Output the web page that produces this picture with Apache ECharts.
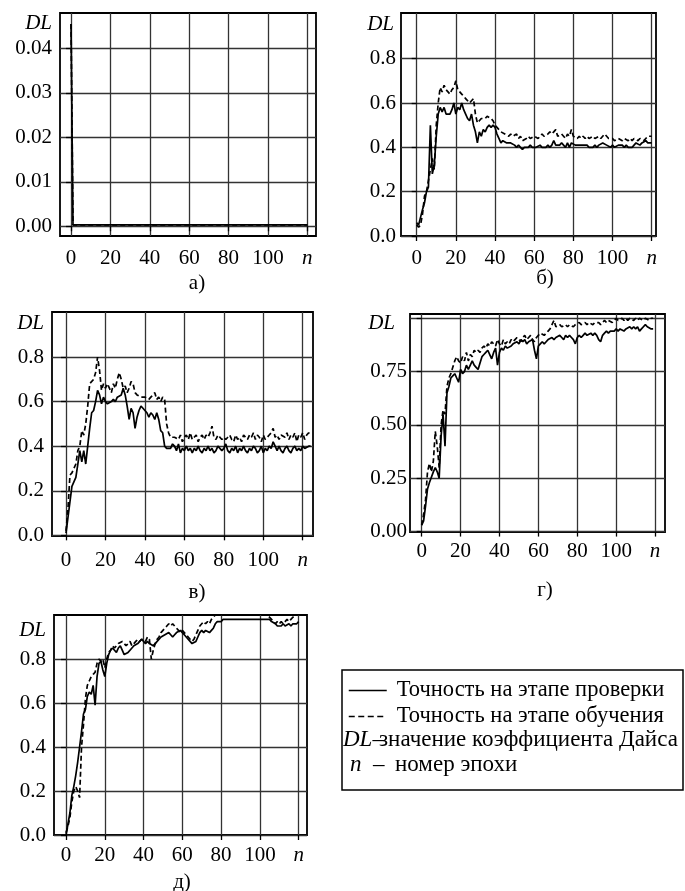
<!DOCTYPE html>
<html><head><meta charset="utf-8">
<script src="https://cdn.jsdelivr.net/npm/echarts@6/dist/echarts.min.js"></script>
<style>html,body{margin:0;padding:0;background:#fff}#c{width:685px;height:891px}</style>
</head><body><div id="c"></div>
<script>
// ---------- data ----------
const epochTicks = [0, 20, 40, 60, 80, 100, 120];
const epochTickLabels = ['0', '20', '40', '60', '80', '100', 'n'];
const seriesNames = ['Точность на этапе проверки', 'Точность на этапе обучения'];
const panelLabels = ['а)', 'б)', 'в)', 'г)', 'д)'];

// panel а
const aYTicks = [0, 0.01, 0.02, 0.03, 0.04];
const aVal = [0.0455,0.0003,0.0003,0.0003,0.0003,0.0003,0.0003,0.0003,0.0003,0.0003,
0.0003,0.0003,0.0003,0.0003,0.0003,0.0003,0.0003,0.0003,0.0003,0.0003,
0.0003,0.0003,0.0003,0.0003,0.0003,0.0003,0.0003,0.0003,0.0003,0.0003,
0.0003,0.0003,0.0003,0.0003,0.0003,0.0003,0.0003,0.0003,0.0003,0.0003,
0.0003,0.0003,0.0003,0.0003,0.0003,0.0003,0.0003,0.0003,0.0003,0.0003,
0.0003,0.0003,0.0003,0.0003,0.0003,0.0003,0.0003,0.0003,0.0003,0.0003,
0.0003,0.0003,0.0003,0.0003,0.0003,0.0003,0.0003,0.0003,0.0003,0.0003,
0.0003,0.0003,0.0003,0.0003,0.0003,0.0003,0.0003,0.0003,0.0003,0.0003,
0.0003,0.0003,0.0003,0.0003,0.0003,0.0003,0.0003,0.0003,0.0003,0.0003,
0.0003,0.0003,0.0003,0.0003,0.0003,0.0003,0.0003,0.0003,0.0003,0.0003,
0.0003,0.0003,0.0003,0.0003,0.0003,0.0003,0.0003,0.0003,0.0003,0.0003,
0.0003,0.0003,0.0003,0.0003,0.0003,0.0003,0.0003,0.0003,0.0003,0.0003,0.0003];
const aTrain = aVal;

// panel б
const bYTicks = [0, 0.2, 0.4, 0.6, 0.8];
const bVal = [0.06,0.05,0.05,0.12,0.15,0.20,0.22,0.50,0.28,0.32,
0.45,0.55,0.58,0.56,0.58,0.55,0.55,0.55,0.57,0.60,
0.55,0.58,0.57,0.60,0.57,0.55,0.53,0.52,0.55,0.50,
0.47,0.42,0.47,0.45,0.48,0.47,0.49,0.50,0.49,0.50,
0.49,0.46,0.44,0.42,0.43,0.43,0.42,0.42,0.42,0.42,
0.41,0.40,0.41,0.40,0.39,0.40,0.40,0.40,0.41,0.40,
0.40,0.40,0.40,0.41,0.40,0.40,0.40,0.41,0.40,0.41,
0.43,0.41,0.41,0.41,0.42,0.41,0.40,0.42,0.40,0.42,
0.42,0.41,0.41,0.41,0.41,0.41,0.41,0.41,0.40,0.40,
0.40,0.41,0.40,0.41,0.41,0.42,0.42,0.41,0.41,0.40,
0.41,0.40,0.40,0.41,0.41,0.41,0.40,0.41,0.40,0.40,
0.40,0.41,0.42,0.42,0.41,0.42,0.42,0.43,0.42,0.42,0.42];
const bTrain = [0.05,0.04,0.05,0.10,0.18,0.20,0.25,0.30,0.35,0.30,
0.50,0.60,0.67,0.65,0.68,0.66,0.65,0.64,0.66,0.67,
0.70,0.66,0.65,0.64,0.64,0.62,0.61,0.60,0.61,0.62,
0.55,0.51,0.52,0.53,0.53,0.53,0.54,0.54,0.53,0.52,
0.50,0.49,0.48,0.47,0.47,0.46,0.46,0.45,0.46,0.45,
0.45,0.46,0.44,0.45,0.43,0.43,0.44,0.45,0.44,0.44,
0.45,0.45,0.44,0.45,0.46,0.45,0.45,0.46,0.47,0.46,
0.47,0.48,0.45,0.45,0.46,0.45,0.44,0.46,0.45,0.48,
0.45,0.45,0.44,0.45,0.44,0.45,0.44,0.45,0.44,0.44,
0.45,0.44,0.44,0.45,0.44,0.45,0.46,0.45,0.44,0.44,
0.44,0.43,0.43,0.44,0.44,0.43,0.44,0.44,0.43,0.44,
0.43,0.44,0.44,0.43,0.44,0.44,0.43,0.44,0.45,0.45,0.45];

// panel в
const vYTicks = [0, 0.2, 0.4, 0.6, 0.8];
const vVal = [0.01,0.08,0.15,0.22,0.24,0.26,0.32,0.38,0.33,0.38,
0.32,0.40,0.48,0.55,0.56,0.60,0.65,0.63,0.59,0.62,
0.60,0.59,0.59,0.60,0.61,0.60,0.62,0.62,0.63,0.66,
0.63,0.58,0.52,0.57,0.55,0.48,0.53,0.56,0.58,0.57,
0.56,0.55,0.53,0.55,0.54,0.52,0.55,0.52,0.47,0.46,
0.40,0.39,0.39,0.39,0.41,0.40,0.38,0.41,0.37,0.39,
0.38,0.40,0.38,0.39,0.37,0.39,0.38,0.40,0.38,0.37,
0.39,0.38,0.40,0.38,0.39,0.37,0.38,0.40,0.39,0.38,
0.39,0.41,0.38,0.37,0.39,0.38,0.40,0.37,0.39,0.38,
0.40,0.38,0.37,0.39,0.38,0.40,0.39,0.37,0.38,0.40,
0.37,0.39,0.38,0.40,0.39,0.42,0.40,0.38,0.40,0.38,
0.37,0.39,0.40,0.38,0.37,0.39,0.40,0.38,0.39,0.38,
0.40,0.39,0.39,0.40,0.40];
const vTrain = [0.02,0.12,0.27,0.28,0.30,0.32,0.38,0.40,0.47,0.45,
0.50,0.58,0.68,0.68,0.70,0.73,0.80,0.74,0.65,0.68,
0.66,0.68,0.68,0.64,0.68,0.66,0.70,0.73,0.70,0.66,
0.67,0.64,0.66,0.69,0.68,0.64,0.63,0.63,0.62,0.62,
0.62,0.62,0.61,0.62,0.62,0.64,0.61,0.62,0.60,0.62,
0.61,0.50,0.46,0.44,0.44,0.44,0.44,0.43,0.45,0.42,
0.44,0.45,0.43,0.46,0.43,0.44,0.45,0.42,0.44,0.45,
0.43,0.45,0.44,0.46,0.49,0.44,0.43,0.45,0.44,0.43,
0.44,0.43,0.44,0.45,0.43,0.42,0.45,0.43,0.44,0.42,
0.45,0.44,0.43,0.45,0.44,0.46,0.43,0.45,0.44,0.42,
0.45,0.43,0.44,0.45,0.46,0.48,0.44,0.45,0.43,0.45,
0.45,0.44,0.46,0.43,0.45,0.44,0.46,0.42,0.45,0.44,
0.46,0.43,0.45,0.46,0.45];

// panel г
const gYTicks = [0, 0.25, 0.5, 0.75, 1.0];
const gVal = [0.03,0.05,0.12,0.20,0.23,0.23,0.28,0.30,0.28,0.25,
0.45,0.55,0.40,0.65,0.68,0.72,0.73,0.74,0.72,0.70,
0.76,0.74,0.75,0.78,0.76,0.78,0.80,0.78,0.77,0.76,
0.79,0.82,0.83,0.84,0.85,0.83,0.81,0.84,0.86,0.78,
0.84,0.86,0.85,0.87,0.86,0.86,0.87,0.88,0.88,0.89,
0.88,0.90,0.89,0.90,0.88,0.89,0.89,0.90,0.85,0.81,
0.87,0.88,0.89,0.88,0.89,0.90,0.90,0.91,0.90,0.91,
0.91,0.92,0.91,0.90,0.92,0.91,0.92,0.91,0.90,0.88,
0.91,0.92,0.91,0.92,0.93,0.92,0.92,0.93,0.92,0.93,
0.92,0.90,0.89,0.92,0.93,0.94,0.93,0.94,0.94,0.94,
0.95,0.94,0.95,0.95,0.94,0.95,0.95,0.96,0.95,0.96,
0.95,0.96,0.94,0.95,0.96,0.97,0.96,0.96,0.95,0.95];
const gTrain = [0.03,0.08,0.15,0.28,0.32,0.28,0.33,0.47,0.40,0.30,
0.50,0.57,0.55,0.68,0.72,0.74,0.77,0.80,0.82,0.80,
0.79,0.82,0.80,0.84,0.80,0.83,0.82,0.85,0.84,0.85,
0.84,0.86,0.87,0.86,0.88,0.87,0.89,0.88,0.87,0.90,
0.88,0.87,0.90,0.88,0.89,0.88,0.90,0.89,0.90,0.91,
0.90,0.89,0.91,0.92,0.90,0.91,0.92,0.90,0.89,0.91,
0.92,0.93,0.93,0.92,0.93,0.94,0.95,0.97,0.99,0.96,
0.96,0.97,0.96,0.96,0.97,0.96,0.97,0.97,0.96,0.97,
0.97,0.98,0.97,0.97,0.98,0.97,0.98,0.98,0.97,0.98,
0.98,0.98,0.97,0.98,0.99,0.98,0.99,0.99,0.98,0.99,
1.00,0.99,0.99,1.00,0.99,1.00,0.99,1.00,1.00,0.99,
1.00,0.99,1.00,1.00,0.99,1.00,1.00,0.99,1.00,1.00];

// panel д
const dYTicks = [0, 0.2, 0.4, 0.6, 0.8];
const dVal = [0.00,0.05,0.10,0.18,0.22,0.27,0.33,0.40,0.47,0.55,
0.57,0.63,0.65,0.64,0.68,0.59,0.72,0.78,0.79,0.75,
0.72,0.78,0.82,0.84,0.85,0.84,0.83,0.85,0.86,0.84,
0.82,0.82,0.83,0.84,0.85,0.86,0.86,0.87,0.88,0.89,
0.88,0.87,0.88,0.87,0.87,0.86,0.87,0.88,0.89,0.90,
0.90,0.91,0.91,0.92,0.91,0.90,0.91,0.92,0.92,0.93,
0.92,0.91,0.90,0.89,0.88,0.87,0.87,0.88,0.90,0.92,
0.93,0.92,0.93,0.93,0.92,0.93,0.94,0.96,0.97,0.97,
0.97,0.98,0.98,0.98,0.98,0.98,0.98,0.98,0.98,0.98,
0.98,0.98,0.98,0.98,0.98,0.98,0.98,0.98,0.98,0.98,
0.98,0.98,0.98,0.98,0.98,0.98,0.97,0.97,0.96,0.95,
0.95,0.95,0.96,0.95,0.95,0.96,0.95,0.96,0.96,0.96,0.97];
const dTrain = [0.01,0.04,0.08,0.15,0.20,0.22,0.20,0.17,0.40,0.50,
0.62,0.68,0.70,0.72,0.73,0.74,0.78,0.80,0.79,0.80,
0.76,0.80,0.83,0.84,0.86,0.85,0.86,0.87,0.87,0.88,
0.87,0.86,0.87,0.88,0.86,0.87,0.88,0.89,0.88,0.89,
0.89,0.88,0.90,0.89,0.80,0.84,0.87,0.89,0.90,0.92,
0.93,0.94,0.95,0.96,0.95,0.96,0.95,0.94,0.93,0.92,
0.93,0.92,0.91,0.90,0.89,0.88,0.89,0.91,0.93,0.95,
0.95,0.97,0.96,0.97,0.96,0.98,0.99,1.00,1.00,1.00,
1.00,1.00,1.00,1.00,1.00,1.00,1.00,1.00,1.00,1.00,
1.00,1.00,1.00,1.00,1.00,1.00,1.00,1.00,1.00,1.00,
1.00,1.00,1.00,1.00,1.00,0.99,0.98,0.97,0.96,0.97,
0.96,0.97,0.96,0.97,0.98,0.97,0.98,0.99,0.99,1.00,1.00];

// ---------- layout / style ----------
const FONT = '"Liberation Serif","DejaVu Serif",serif';
const FS = 21;
const LFS = 22.5;
const panels = [
  {val:aVal, train:aTrain, yTicks:aYTicks, dec:2, dl:0.0457, dlPad:0, left:60, top:13, width:256, height:223, xMin:-5.6, xMax:124.4, yMin:-0.0022, yMax:0.048, lab:[192,280], yMargin:8, xMargin:12},
  {val:bVal, train:bTrain, yTicks:bYTicks, dec:1, dl:0.952, dlPad:2, left:401, top:13, width:255, height:223, xMin:-8.0, xMax:122.2, yMin:0, yMax:1.006, lab:[540,275], yMargin:5, xMargin:12},
  {val:vVal, train:vTrain, yTicks:vYTicks, dec:1, dl:0.952, dlPad:0, left:52, top:312, width:261, height:224, xMin:-7.1, xMax:125.2, yMin:-0.003, yMax:1.002, lab:[192,589], yMargin:8, xMargin:14},
  {val:gVal, train:gTrain, yTicks:gYTicks, dec:2, dl:0.975, dlPad:12, left:410, top:314, width:255, height:218, xMin:-6.0, xMax:125.1, yMin:-0.002, yMax:1.02, lab:[540,587], yMargin:3, xMargin:9},
  {val:dVal, train:dTrain, yTicks:dYTicks, dec:1, dl:0.93, dlPad:0, left:54, top:615, width:253, height:220, xMin:-6.2, xMax:124.3, yMin:0, yMax:1.0, lab:[177,879], yMargin:8, xMargin:10}
];

const grids = [], xAxes = [], yAxes = [], series = [], titles = [];
const italic = {fontStyle:'italic', fontFamily:FONT, fontSize:FS, color:'#000'};
const richL = {i:{fontStyle:'italic', fontFamily:FONT, fontSize:23, color:'#000'}};
panels.forEach((p, i) => {
  grids.push({left:p.left, top:p.top, width:p.width, height:p.height, show:true,
    borderColor:'#000', borderWidth:1.8, backgroundColor:'transparent', containLabel:false});
  xAxes.push({gridIndex:i, type:'value', min:p.xMin, max:p.xMax,
    axisLine:{show:false},
    axisTick:{show:true, customValues:epochTicks, length:5, lineStyle:{color:'#000', width:1.3}},
    axisLabel:{customValues:epochTicks, margin:p.xMargin, color:'#000', fontFamily:FONT, fontSize:FS,
      formatter:(v)=>{const k=epochTicks.indexOf(v); const t=k>=0?epochTickLabels[k]:String(v); return t==='n'?'{i|n}':t;},
      rich:{i:italic}},
    splitLine:{show:true, lineStyle:{color:'#333', width:1.3}}});
  yAxes.push({gridIndex:i, type:'value', min:p.yMin, max:p.yMax,
    axisLine:{show:false},
    axisTick:{show:true, customValues:p.yTicks, length:5, lineStyle:{color:'#000', width:1.3}},
    axisLabel:{customValues: p.yTicks.filter(v=>v<p.dl).concat([p.dl]), margin:p.yMargin, color:'#000', fontFamily:FONT, fontSize:FS,
      formatter:(v)=> v===p.dl ? '{i|DL}' : v.toFixed(p.dec),
      rich:{i:Object.assign({}, italic, {padding:[0,p.dlPad,0,0]})}},
    splitLine:{show:true, lineStyle:{color:'#333', width:1.3}}});
  series.push({name:seriesNames[1], type:'line', xAxisIndex:i, yAxisIndex:i, symbol:'none', color:'#000',
    data:p.train.map((v,n)=>[n,v]), lineStyle:{color:'#000', width:1.7, type:[5,3]}, animation:false, z:3});
  series.push({name:seriesNames[0], type:'line', xAxisIndex:i, yAxisIndex:i, symbol:'none', color:'#000',
    data:p.val.map((v,n)=>[n,v]), lineStyle:{color:'#000', width:1.7, type:'solid'}, animation:false, z:4});
  titles.push({text:panelLabels[i], left:p.lab[0], top:p.lab[1]-12, textAlign:'center',
    textStyle:{fontFamily:FONT, fontSize:FS, fontWeight:'normal', color:'#000'}});
});

const option = {
  backgroundColor:'#fff',
  animation:false,
  title:titles,
  grid:grids, xAxis:xAxes, yAxis:yAxes, series:series,
  legend:{orient:'vertical', left:348, top:679, padding:0, itemWidth:38, itemHeight:14, itemGap:3,
    data:[
      {name:seriesNames[0]},
      {name:seriesNames[1], lineStyle:{type:[6,3.5]}}
    ], selectedMode:false,
    itemStyle:{opacity:0},
    lineStyle:{width:1.5},
    textStyle:{fontFamily:FONT, fontSize:LFS, color:'#000', padding:[0,0,0,5]}},
  graphic:[
    {type:'rect', shape:{x:342, y:670, width:341, height:120}, style:{fill:'none', stroke:'#000', lineWidth:1.5}},
    {type:'text', left:343, top:728, style:{text:'{i|DL}–', rich:richL, font:'23px '+FONT, fill:'#000'}},
    {type:'text', left:379, top:728, style:{text:'значение коэффициента Дайса', font:'23px '+FONT, fill:'#000'}},
    {type:'text', left:350, top:753, style:{text:'{i|n}  –', rich:richL, font:'23px '+FONT, fill:'#000'}},
    {type:'text', left:395, top:753, style:{text:'номер эпохи', font:'23px '+FONT, fill:'#000'}}
  ]
};
const chart = echarts.init(document.getElementById('c'), null, {renderer:'canvas'});
chart.setOption(option);
</script></body></html>
